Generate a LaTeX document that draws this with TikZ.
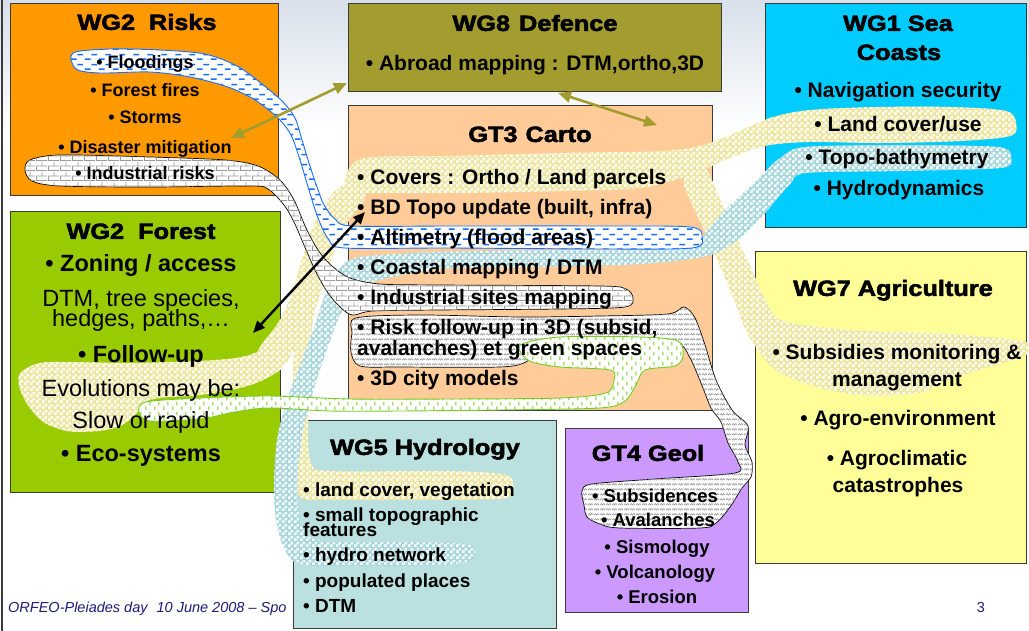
\documentclass[tikz,border=0pt]{standalone}
\usepackage{fontspec}
\setmainfont{Liberation Sans}
\newfontfamily\heavy{Liberation Sans Bold}[FakeBold=2.5,FakeStretch=1.15]
\usetikzlibrary{arrows.meta,patterns}

\definecolor{riskorange}{HTML}{FF9900}
\definecolor{defolive}{HTML}{A39C2E}
\definecolor{seacyan}{HTML}{00CCFF}
\definecolor{cartopeach}{HTML}{FFCC99}
\definecolor{forestgreen}{HTML}{99CC00}
\definecolor{agriyellow}{HTML}{FFFF99}
\definecolor{hydroblue}{HTML}{BAE0E0}
\definecolor{geollilac}{HTML}{CC99FF}
\definecolor{boxline}{HTML}{3A3A3A}
\definecolor{hlyellow}{HTML}{EEE6A0}
\definecolor{hlblue}{HTML}{A8D7DD}
\definecolor{floodblue}{HTML}{1A6CFF}
\definecolor{greenline}{HTML}{77CC22}
\definecolor{brickgrey}{HTML}{9A9A9A}
\definecolor{footblue}{HTML}{1C1C7A}
\definecolor{topgrey}{HTML}{D8E0EA}

% highlighter textures (form only, drawn over a solid base colour)
\pgfdeclarepatternformonly{hlchecks}
{\pgfqpoint{0pt}{0pt}}{\pgfqpoint{6pt}{6pt}}{\pgfqpoint{6pt}{6pt}}
{%
  \pgfpathrectangle{\pgfqpoint{0pt}{0pt}}{\pgfqpoint{3pt}{3pt}}%
  \pgfpathrectangle{\pgfqpoint{3pt}{3pt}}{\pgfqpoint{3pt}{3pt}}%
  \pgfusepath{fill}%
}
\pgfdeclarepatternformonly{hlbricks}
{\pgfqpoint{0pt}{0pt}}{\pgfqpoint{12pt}{10pt}}{\pgfqpoint{12pt}{10pt}}
{%
  \pgfsetlinewidth{0.9pt}%
  \pgfpathmoveto{\pgfqpoint{0pt}{0.5pt}}\pgfpathlineto{\pgfqpoint{12pt}{0.5pt}}%
  \pgfpathmoveto{\pgfqpoint{0pt}{5.5pt}}\pgfpathlineto{\pgfqpoint{12pt}{5.5pt}}%
  \pgfpathmoveto{\pgfqpoint{0.5pt}{0.5pt}}\pgfpathlineto{\pgfqpoint{0.5pt}{5.5pt}}%
  \pgfpathmoveto{\pgfqpoint{6.5pt}{5.5pt}}\pgfpathlineto{\pgfqpoint{6.5pt}{10pt}}%
  \pgfusepath{stroke}%
}
\pgfdeclarepatternformonly{hldashes}
{\pgfqpoint{0pt}{0pt}}{\pgfqpoint{14pt}{10pt}}{\pgfqpoint{14pt}{10pt}}
{%
  \pgfsetlinewidth{1.7pt}%
  \pgfpathmoveto{\pgfqpoint{1pt}{2pt}}\pgfpathlineto{\pgfqpoint{7pt}{2pt}}%
  \pgfpathmoveto{\pgfqpoint{8pt}{7pt}}\pgfpathlineto{\pgfqpoint{14pt}{7pt}}%
  \pgfusepath{stroke}%
}
\pgfdeclarepatternformonly{hlticks}
{\pgfqpoint{0pt}{0pt}}{\pgfqpoint{9pt}{10pt}}{\pgfqpoint{9pt}{10pt}}
{%
  \pgfsetlinewidth{1.2pt}%
  \pgfpathmoveto{\pgfqpoint{2pt}{1pt}}\pgfpathlineto{\pgfqpoint{2pt}{5pt}}%
  \pgfpathmoveto{\pgfqpoint{6.5pt}{6pt}}\pgfpathlineto{\pgfqpoint{6.5pt}{10pt}}%
  \pgfusepath{stroke}%
}
\pgfdeclarepatternformonly{hlzigzag}
{\pgfqpoint{0pt}{0pt}}{\pgfqpoint{6pt}{5pt}}{\pgfqpoint{6pt}{5pt}}
{%
  \pgfsetlinewidth{0.7pt}%
  \pgfpathmoveto{\pgfqpoint{0pt}{1pt}}\pgfpathlineto{\pgfqpoint{1.5pt}{3pt}}%
  \pgfpathlineto{\pgfqpoint{3pt}{1pt}}\pgfpathlineto{\pgfqpoint{4.5pt}{3pt}}%
  \pgfpathlineto{\pgfqpoint{6pt}{1pt}}%
  \pgfusepath{stroke}%
}

\tikzset{
  box/.style={draw=boxline, line width=1pt, inner sep=0pt, outer sep=0pt, anchor=north west},
  ttl/.style={font={\heavy\fontsize{22}{22}\selectfont}, inner sep=0pt, anchor=base, yshift=-7.9pt},
  itA/.style={font={\bfseries\fontsize{18}{18}\selectfont}, inner sep=0pt, anchor=base, yshift=-6.4pt},
  itB/.style={font={\bfseries\fontsize{21}{21}\selectfont}, inner sep=0pt, anchor=base, yshift=-7.5pt},
  itBw/.style={itB, anchor=base west},
  itC/.style={font={\bfseries\fontsize{23.5}{23.5}\selectfont}, inner sep=0pt, anchor=base, yshift=-8.4pt},
  itCr/.style={font={\fontsize{23.5}{23.5}\selectfont}, inner sep=0pt, anchor=base, yshift=-8.4pt},
  itD/.style={font={\bfseries\fontsize{19}{19}\selectfont}, inner sep=0pt, anchor=base west, yshift=-6.8pt},
  itE/.style={font={\bfseries\fontsize{18.5}{18.5}\selectfont}, inner sep=0pt, anchor=base, yshift=-6.6pt},
  foot/.style={font={\itshape\fontsize{14.5}{14.5}\selectfont}, text=footblue, inner sep=0pt},
  hlyel/.style={fill=hlyellow, postaction={pattern=hlchecks, pattern color=white}},
  hlblu/.style={fill=hlblue, postaction={pattern=hlchecks, pattern color=white}},
  hlbrick/.style={fill=white, draw=black, line width=0.7pt,
    postaction={pattern=hlbricks, pattern color=brickgrey}},
  hlflood/.style={fill=white, draw=floodblue, line width=0.9pt,
    postaction={pattern=hldashes, pattern color=floodblue}},
  hlgreen/.style={fill=white, draw=greenline, line width=0.9pt,
    postaction={pattern=hlticks, pattern color=greenline}},
  hlzig/.style={fill=white, draw=black, line width=0.7pt,
    postaction={pattern=hlzigzag, pattern color=brickgrey}},
  olivelink/.style={draw=defolive, line width=2.6pt,
    {Triangle[length=13pt,width=11pt]}-{Triangle[length=13pt,width=11pt]}},
  blacklink/.style={draw=black, line width=2.4pt,
    {Triangle[length=12pt,width=10pt]}-{Triangle[length=12pt,width=10pt]}},
}

\begin{document}
\begin{tikzpicture}[x=1pt,y=-1pt]
\useasboundingbox (0,0) rectangle (1029,631);
\fill[white] (0,0) rectangle (1029,631);
\shade[top color=topgrey, bottom color=white] (0,0) rectangle (1029,130);
\draw[boxline, line width=1.2pt] (2,0) -- (2,631);

% footer, partly hidden by the hydrology box
\node[foot, anchor=base west] (footer) at (8,612) {ORFEO-Pleiades day\hspace{5pt} 10 June 2008 – Spo};
\node[foot, font={\fontsize{14.5}{14.5}\selectfont}, anchor=base] (pageno) at (981,612) {3};

% working group boxes
\node[box, fill=riskorange, minimum width=268pt, minimum height=192pt] (risks) at (10,4) {};
\node[box, fill=defolive, minimum width=373pt, minimum height=88pt] (defence) at (348,4) {};
\node[box, fill=seacyan, minimum width=261pt, minimum height=224pt] (sea) at (765,4) {};
\node[box, fill=cartopeach, minimum width=364pt, minimum height=304pt] (carto) at (348,106) {};
\node[box, fill=forestgreen, minimum width=270pt, minimum height=280pt] (forest) at (10,212) {};
\node[box, fill=agriyellow, minimum width=271pt, minimum height=311pt] (agri) at (755,252) {};
\node[box, fill=hydroblue, minimum width=263pt, minimum height=208pt] (hydro) at (293,420) {};
\node[box, fill=geollilac, minimum width=183pt, minimum height=184pt] (geol) at (565,428) {};

% yellow highlighter: land cover
\path[hlyel] plot[smooth cycle, tension=0.55] coordinates {(1016,124) (1006,111) (950,107) (880,107) (810,110) (770,118) (735,133) (700,146) (660,151) (560,153) (450,156) (372,157) (352,165) (345,180) (352,193) (380,193) (460,193) (560,191) (640,188) (690,175) (725,160) (765,146) (810,142) (880,143) (960,141) (1010,136)};
\path[hlyel] plot[smooth cycle, tension=0.55] coordinates {(355,182) (366,196) (348,222) (333,255) (320,295) (307,330) (292,352) (272,363) (256,358) (262,344) (280,320) (293,290) (304,252) (318,215) (336,190)};
\path[hlyel] plot[smooth cycle, tension=0.55] coordinates {(322,222) (334,232) (323,270) (313,320) (309,370) (308,420) (311,463) (332,471) (450,471) (506,475) (513,487) (506,498) (450,500) (330,500) (302,498) (295,480) (293,430) (293,370) (297,320) (306,268)};
\path[hlyel] plot[smooth cycle, tension=0.55] coordinates {(21,372) (40,363) (70,362) (130,363) (200,361) (242,357) (265,348) (280,336) (292,350) (282,368) (263,380) (240,388) (200,395) (160,398) (143,403) (136,414) (120,426) (98,431) (67,431) (42,421) (26,402) (19,385)};
\path[hlyel] plot[smooth cycle, tension=0.55] coordinates {(703,165) (720,199) (737,238) (752,270) (767,303) (784,321) (850,330) (950,334) (1022,341) (1028,349) (1021,357) (950,379) (917,393) (850,394) (782,374) (750,338) (735,302) (720,266) (706,234) (690,200) (684,178)};

% light blue highlighter: topography
\path[hlblu] plot[smooth cycle, tension=0.5] coordinates {(1011,158) (998,147) (900,145) (805,147) (780,158) (757,180) (723,212) (698,240) (660,249) (573,250) (440,252) (360,257) (340,268) (325,295) (315,325) (300,365) (287,400) (277,440) (274,485) (276,520) (284,548) (300,564) (360,566) (440,565) (470,561) (475,552) (466,544) (400,542) (330,542) (305,533) (298,505) (298,470) (303,430) (312,395) (325,355) (338,320) (352,296) (372,282) (440,269) (540,267) (640,264) (707,256) (740,238) (765,213) (790,184) (806,173) (900,171) (1000,168)};

% zigzag highlighter: ground risks
\path[hlzig] plot[smooth cycle, tension=0.5] coordinates {(356,318) (420,315) (520,317) (600,316) (668,314) (684,307) (695,318) (705,345) (716,380) (732,410) (748,426) (745,445) (752,462) (751,477) (742,488) (730,507) (716,523) (700,528) (620,528) (600,524) (587,517) (584,505) (582,491) (592,484) (655,479) (735,473) (738,462) (728,443) (721,422) (711,408) (701,383) (689,356) (676,343) (620,341) (555,341) (538,350) (526,362) (500,367) (400,367) (360,366) (351,352) (352,333)};

% green highlighter: green spaces
\path[hlgreen] plot[smooth cycle, tension=0.5] coordinates {(522,344) (560,337) (640,337) (678,341) (683,356) (675,366) (645,370) (636,385) (625,401) (600,408) (500,410) (400,411) (330,411) (270,408) (235,412) (200,419) (150,421) (139,412) (146,402) (200,398) (270,396) (350,399) (450,399) (560,398) (606,393) (614,380) (610,370) (560,367) (532,362) (521,353)};

% brick highlighter: industrial risks
\path[hlbrick] plot[smooth cycle, tension=0.5] coordinates {(30,160) (60,155) (150,157) (225,160) (258,166) (280,180) (294,200) (306,228) (318,250) (332,266) (350,278) (380,284) (440,285) (600,286) (626,289) (633,298) (625,307) (560,309) (440,310) (373,311) (352,315) (338,305) (326,290) (315,270) (304,245) (294,222) (284,205) (268,189) (250,186) (150,187) (60,186) (32,181) (25,170)};

% dashed blue highlighter: floods
\path[hlflood] plot[smooth cycle, tension=0.5] coordinates {(73,53) (110,49) (160,50) (205,54) (237,66) (262,84) (283,102) (295,118) (302,140) (309,163) (317,187) (324,205) (335,219) (352,226) (450,226) (600,226) (690,227) (702,237) (692,248) (600,249) (450,248) (345,248) (329,240) (318,218) (309,190) (300,160) (291,135) (278,118) (255,100) (228,87) (190,77) (150,72) (100,73) (76,69)};

% WG2 Risks
\node[ttl] (risksT) at (147,22) {WG2\hspace{14pt}Risks};
\node[itA] (r1) at (145,62) {• Floodings};
\node[itA] (r2) at (145,90) {• Forest fires};
\node[itA] (r3) at (145,117) {• Storms};
\node[itA] (r4) at (145,147) {• Disaster mitigation};
\node[itA] (r5) at (145,173) {• Industrial risks};

% WG8 Defence
\node[ttl] (defT) at (535,23) {WG8\hspace{9pt}Defence};
\node[itB] (d1) at (535,63) {• Abroad mapping : DTM,ortho,3D};

% WG1 Sea Coasts
\node[ttl] (seaT1) at (898,23) {WG1 Sea};
\node[ttl] (seaT2) at (899,52) {Coasts};
\node[itB] (s1) at (898,90) {• Navigation security};
\node[itB] (s2) at (898,124) {• Land cover/use};
\node[itB] (s3) at (897,157) {• Topo-bathymetry};
\node[itB] (s4) at (899,188) {• Hydrodynamics};

% GT3 Carto
\node[ttl] (cartoT) at (530,134) {GT3\hspace{8pt}Carto};
\node[itBw] (c1) at (357,177) {• Covers : Ortho / Land parcels};
\node[itBw] (c2) at (357,207) {• BD Topo update (built, infra)};
\node[itBw] (c3) at (357,237) {• Altimetry (flood areas)};
\node[itBw] (c4) at (357,267) {• Coastal mapping / DTM};
\node[itBw] (c5) at (357,297) {• Industrial sites mapping};
\node[itBw] (c6) at (357,327) {• Risk follow-up in 3D (subsid,};
\node[itBw] (c7) at (357,348) {avalanches) et green spaces};
\node[itBw] (c8) at (357,378) {• 3D city models};

% WG2 Forest
\node[ttl] (forT) at (141,231) {WG2\hspace{14pt}Forest};
\node[itC] (f1) at (141,263) {• Zoning / access};
\node[itCr, anchor=north, yshift=0pt, align=center,
      font={\fontsize{23.5}{21}\selectfont}] (f2) at (141,281) {DTM, tree species,\\[-3pt]hedges, paths,…};
\node[itC] (f4) at (141,354) {• Follow-up};
\node[itCr] (f5) at (141,388) {Evolutions may be:};
\node[itCr] (f6) at (141,420) {Slow or rapid};
\node[itC] (f7) at (141,453) {• Eco-systems};

% WG7 Agriculture
\node[ttl] (agriT) at (893,288) {WG7 Agriculture};
\node[itB] (a1) at (897,352) {• Subsidies monitoring \&};
\node[itB] (a2) at (897,379) {management};
\node[itB] (a3) at (898,418) {• Agro-environment};
\node[itB] (a4) at (897,458) {• Agroclimatic};
\node[itB] (a5) at (898,485) {catastrophes};

% WG5 Hydrology
\node[ttl] (hydT) at (425,447) {WG5 Hydrology};
\node[itD] (h1) at (303,490) {• land cover, vegetation};
\node[itD, anchor=north west, yshift=0pt, align=left,
      font={\bfseries\fontsize{19}{15}\selectfont}] (h2) at (303,501) {• small topographic\\[-4pt]features};
\node[itD] (h4) at (303,555) {• hydro network};
\node[itD] (h5) at (303,581) {• populated places};
\node[itD] (h6) at (303,606) {• DTM};

% GT4 Geol
\node[ttl] (geoT) at (648,453) {GT4 Geol};
\node[itE] (g1) at (655,496) {• Subsidences};
\node[itE] (g2) at (658,520) {• Avalanches};
\node[itE] (g3) at (657,547) {• Sismology};
\node[itE] (g4) at (655,572) {• Volcanology};
\node[itE] (g5) at (657,597) {• Erosion};

% links between groups
\coordinate (olA) at (231,138);
\coordinate (olB) at (347,83);
\coordinate (olC) at (558,93);
\coordinate (olD) at (657,125);
\coordinate (bkA) at (365,212);
\coordinate (bkB) at (253,333);
\draw[olivelink] (olA) -- (olB);
\draw[olivelink] (olC) -- (olD);
\draw[blacklink] (bkA) -- (bkB);
\end{tikzpicture}
\end{document}
